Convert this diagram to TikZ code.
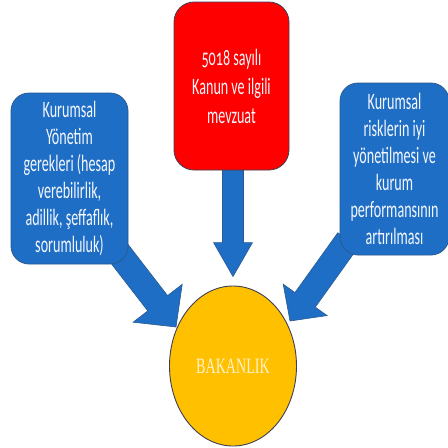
\documentclass[tikz,border=0pt]{standalone}
\usepackage{fontspec}
\setmainfont[FakeStretch=0.6,Numbers=OldStyle]{Carlito}
\newfontfamily\bakfont[FakeStretch=0.64]{Liberation Serif}
\usetikzlibrary{calc,backgrounds,shapes.geometric}
\definecolor{boxblue}{HTML}{1F6EC6}
\definecolor{edgeblue}{HTML}{2A5A8E}
\definecolor{boxred}{HTML}{FF0000}
\definecolor{edgedark}{HTML}{3C3F55}
\definecolor{gold}{HTML}{FFC000}
\definecolor{cream}{HTML}{FFF2CC}
\definecolor{softwhite}{HTML}{F4F7FC}
\newcommand\fatarrow[5]{%
  \path ($(#2)!#5!(#1)$) coordinate (hb);
  \draw[fatarr] ($(#1)!#3!90:(#2)$) -- ($(hb)!#3!-90:(#1)$) -- ($(hb)!#4!-90:(#1)$)
    -- (#2) -- ($(hb)!#4!90:(#1)$) -- ($(hb)!#3!90:(#1)$) -- ($(#1)!#3!-90:(#2)$) -- cycle;
}
\begin{document}
\begin{tikzpicture}[x=1pt,y=-1pt,
  bluebox/.style={draw=edgeblue, line width=0.8pt, fill=boxblue, rounded corners=18pt,
    text=softwhite, align=center, font=\fontsize{23.5}{27}\selectfont, inner sep=0pt},
  redbox/.style={draw=edgedark, line width=0.8pt, fill=boxred, rounded corners=20pt,
    text=softwhite, align=center, font=\fontsize{23.5}{29}\selectfont, inner sep=0pt},
  goldell/.style={ellipse, draw=edgedark, line width=0.9pt, fill=gold, text=cream,
    font=\bakfont\fontsize{22}{24}\selectfont, inner sep=0pt},
  fatarr/.style={fill=boxblue, draw=edgeblue, line width=0.6pt, line join=miter}]
\useasboundingbox (0,0) rectangle (448,448);
\node[redbox, minimum width=115pt, minimum height=168pt] (law) at (231.5,86)
  {5018 sayılı\\Kanun ve ilgili\\mevzuat};
\node[bluebox, minimum width=117pt, minimum height=171pt] (gov) at (69.5,178.5)
  {Kurumsal\\Yönetim\\gerekleri (hesap\\verebilirlik,\\adillik, şeffaflık,\\sorumluluk)};
\node[bluebox, minimum width=109pt, minimum height=172pt] (risk) at (394.5,169)
  {Kurumsal\\risklerin iyi\\yönetilmesi ve\\kurum\\performansının\\artırılması};
\node[goldell, minimum width=127pt, minimum height=160pt] (bak) at (233,366) {BAKANLIK};
\coordinate (ds) at ($(law.south)+(1.5,-12)$);
\coordinate (dt) at ($(bak.north)+(0,-9)$);
\coordinate (ls) at (115,248);
\coordinate (lt) at (176,327);
\coordinate (rs) at (348,240);
\coordinate (rt) at (290,321);
\begin{scope}[on background layer]
  \fatarrow{ds}{dt}{10.5pt}{19.5pt}{34pt}
  \fatarrow{ls}{lt}{12.5pt}{31pt}{30pt}
  \fatarrow{rs}{rt}{12.5pt}{27pt}{26pt}
\end{scope}
\end{tikzpicture}
\end{document}
